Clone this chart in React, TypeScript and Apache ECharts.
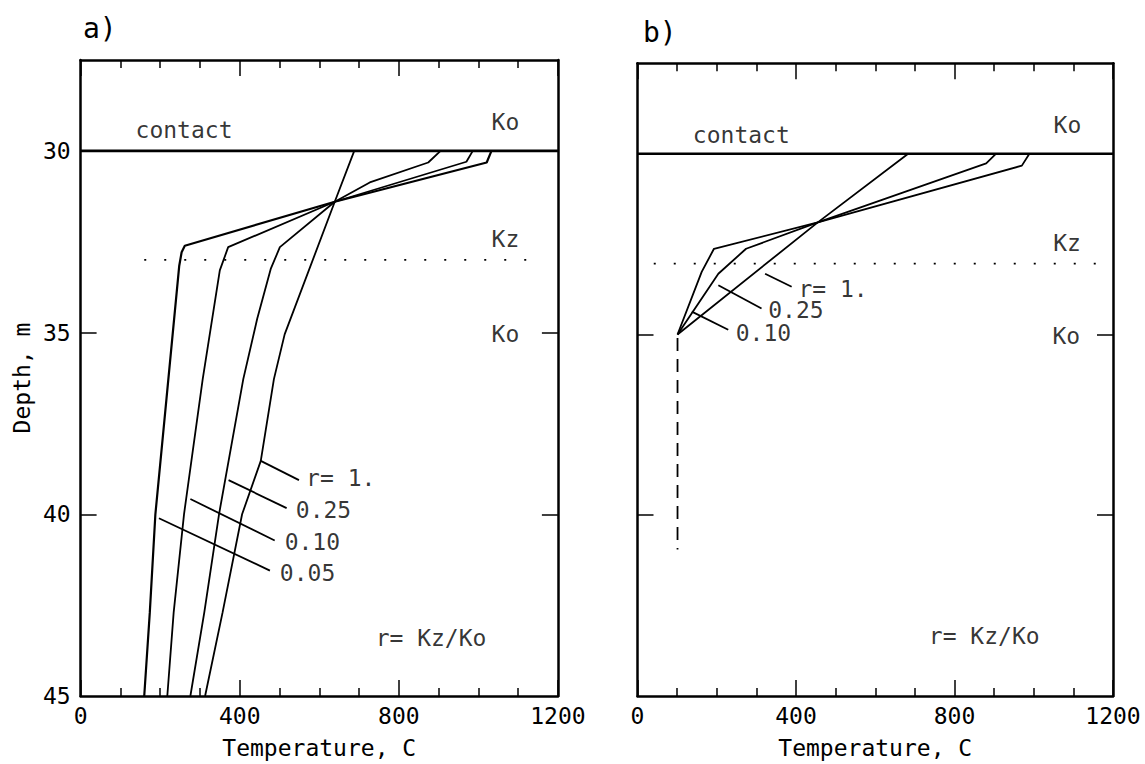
import React, { useEffect, useRef } from "react";
import * as echarts from "echarts";

// ---------- data ----------
const xTickValues = [0, 400, 800, 1200];
const depthLabelValues = [30, 35, 40, 45];
const sideTickValues = [35, 40];

// panel a : temperature (C) vs depth (m)
const aDepthR1 = [30, 31.4, 35.05, 36.28, 38.53, 40, 42.7, 45];
const aTempR1 = [688, 639, 513, 486, 453, 406, 357, 313];
const aDepthR025 = [30, 30.32, 30.87, 31.4, 32.65, 33.25, 34.62, 36.28, 40, 42.7, 45];
const aTempR025 = [905, 874, 727, 639, 501, 478, 444, 409, 348, 311, 276];
const aDepthR010 = [30, 30.3, 31.4, 32.65, 33.29, 36.28, 40, 42.7, 45];
const aTempR010 = [986, 970, 639, 371, 350, 307, 260, 234, 218];
const aDepthR005 = [30, 30.32, 31.4, 32.61, 32.79, 33.16, 36.81, 40, 42.7, 45];
const aTempR005 = [1033, 1021, 639, 262, 254, 248, 216, 188, 174, 160];
const aContact = [[0, 30], [1200, 30]];
const aDotted = [[160, 33.0], [1122, 33.0]];
const aLeaders = [
  [[453, 38.53], [549, 39.06]],
  [[372, 39.06], [518, 39.83]],
  [[276, 39.58], [488, 40.72]],
  [[197, 40.11], [476, 41.55]],
];
const aLeaderLabels: [number, number, string][] = [
  [567, 39.01, "r= 1."],
  [541, 39.88, "0.25"],
  [513, 40.75, "0.10"],
  [501, 41.62, "0.05"],
];
const aNotes: [number, number, string][] = [
  [260, 29.43, "contact"],
  [1068, 29.21, "Ko"],
  [1068, 32.43, "Kz"],
  [1068, 35.05, "Ko"],
  [881, 43.4, "r= Kz/Ko"],
];

// panel b
const bDepthR1 = [30, 31.9, 35];
const bTempR1 = [683, 455, 101];
const bDepthR025 = [30, 30.27, 31.9, 32.63, 33.32, 35];
const bTempR025 = [905, 880, 455, 274, 204, 101];
const bDepthR010 = [30, 30.33, 31.9, 32.63, 33.27, 35];
const bTempR010 = [989, 970, 455, 193, 162, 101];
const bDashed = [[101, 35.1], [101, 40.95]];
const bContact = [[0, 30], [1200, 30]];
const bDotted = [[41, 33.04], [1163, 33.04]];
const bLeaders = [
  [[322, 33.32], [389, 33.68]],
  [[204, 33.64], [313, 34.28]],
  [[137, 34.37], [229, 34.87]],
];
const bLeaderLabels: [number, number, string][] = [
  [406, 33.73, "r= 1."],
  [330, 34.32, "0.25"],
  [248, 34.95, "0.10"],
];
const bNotes: [number, number, string][] = [
  [262, 29.47, "contact"],
  [1085, 29.21, "Ko"],
  [1084, 32.47, "Kz"],
  [1082, 35.03, "Ko"],
  [875, 43.35, "r= Kz/Ko"],
];

// ---------- helpers ----------
const FONT = "DejaVu Sans Mono";
const FS = 23;
const zip = (xs: number[], ys: number[]) => xs.map((x, i) => [x, ys[i]]);

function makeXAxis(grid: number, pos: "bottom" | "top", labels: boolean, name?: string) {
  return {
    gridIndex: grid,
    type: "value",
    position: pos,
    min: xTickValues[0],
    max: xTickValues[xTickValues.length - 1],
    interval: xTickValues[1] - xTickValues[0],
    name: name,
    nameLocation: "middle",
    nameGap: 40,
    nameTextStyle: { fontFamily: FONT, fontSize: FS, color: "#000" },
    axisLine: { show: true, onZero: false, lineStyle: { color: "#000", width: 2.5 } },
    axisTick: { show: true, inside: true, length: 16, lineStyle: { color: "#000", width: 1.5 } },
    minorTick: { show: true, splitNumber: 4, length: 8, lineStyle: { color: "#000", width: 1.5 } },
    axisLabel: {
      show: labels,
      margin: 8,
      fontFamily: FONT,
      fontSize: FS,
      color: "#000",
      formatter: (v: number) => String(v),
    },
    splitLine: { show: false },
    minorSplitLine: { show: false },
  };
}

function makeYAxis(grid: number, pos: "left" | "right", labels: boolean, name?: string) {
  return {
    gridIndex: grid,
    type: "value",
    position: pos,
    inverse: true,
    min: 27.5,
    max: 45,
    name: name,
    nameLocation: "middle",
    nameGap: 47,
    nameTextStyle: { fontFamily: FONT, fontSize: FS, color: "#000" },
    axisLine: { show: true, onZero: false, lineStyle: { color: "#000", width: 2.5 } },
    axisTick: {
      show: true,
      inside: true,
      length: 16,
      customValues: sideTickValues,
      lineStyle: { color: "#000", width: 1.5 },
    },
    axisLabel: {
      show: labels,
      margin: 10,
      customValues: depthLabelValues,
      fontFamily: FONT,
      fontSize: FS,
      color: "#000",
      formatter: (v: number) => String(v),
    },
    splitLine: { show: false },
  };
}

function lineSeries(data: number[][], xi: number, yi: number, width = 1.8, type: any = "solid") {
  return {
    type: "line",
    xAxisIndex: xi,
    yAxisIndex: yi,
    data,
    symbol: "none",
    showSymbol: false,
    silent: true,
    animation: false,
    lineStyle: { color: "#000", width, type },
    z: 3,
  };
}

function textSeries(rows: [number, number, string][], xi: number, yi: number, align: string) {
  return {
    type: "scatter",
    xAxisIndex: xi,
    yAxisIndex: yi,
    data: rows.map((r) => ({ value: [r[0], r[1]], name: r[2] })),
    symbolSize: 0,
    silent: true,
    clip: false,
    label: {
      show: true,
      position: [0, 0],
      align,
      verticalAlign: "middle",
      formatter: (p: any) => p.name,
      fontFamily: FONT,
      fontSize: FS,
      color: "#000",
    },
    z: 5,
  };
}

export default function App() {
  const ref = useRef<HTMLDivElement>(null);
  useEffect(() => {
    if (!ref.current) return;
    const chart = echarts.init(ref.current, undefined, { renderer: "svg" });
    const series: any[] = [];
    // panel a
    series.push(lineSeries(aContact, 0, 0, 2.6));
    series.push(lineSeries(aDotted, 0, 0, 1.8, [2, 18]));
    series.push(lineSeries(zip(aTempR1, aDepthR1), 0, 0));
    series.push(lineSeries(zip(aTempR025, aDepthR025), 0, 0));
    series.push(lineSeries(zip(aTempR010, aDepthR010), 0, 0));
    series.push(lineSeries(zip(aTempR005, aDepthR005), 0, 0, 2.2));
    aLeaders.forEach((l) => series.push(lineSeries(l, 0, 0)));
    series.push(textSeries(aLeaderLabels, 0, 0, "left"));
    series.push(textSeries(aNotes, 0, 0, "center"));
    // panel b
    series.push(lineSeries(bContact, 2, 2, 2.6));
    series.push(lineSeries(bDotted, 2, 2, 1.8, [2, 18]));
    series.push(lineSeries(zip(bTempR1, bDepthR1), 2, 2));
    series.push(lineSeries(zip(bTempR025, bDepthR025), 2, 2));
    series.push(lineSeries(zip(bTempR010, bDepthR010), 2, 2));
    series.push(lineSeries(bDashed, 2, 2, 1.8, [13, 8]));
    bLeaders.forEach((l) => series.push(lineSeries(l, 2, 2)));
    series.push(textSeries(bLeaderLabels, 2, 2, "left"));
    series.push(textSeries(bNotes, 2, 2, "center"));

    chart.setOption({
      animation: false,
      backgroundColor: "#fff",
      grid: [
        { left: 80.6, top: 60, width: 477.3, height: 638.3 },
        { left: 637.5, top: 63.3, width: 475.5, height: 637.4 },
      ],
      xAxis: [
        makeXAxis(0, "bottom", true, "Temperature, C"),
        makeXAxis(0, "top", false),
        makeXAxis(1, "bottom", true, "Temperature, C"),
        makeXAxis(1, "top", false),
      ],
      yAxis: [
        makeYAxis(0, "left", true, "Depth, m"),
        makeYAxis(0, "right", false),
        makeYAxis(1, "left", false),
        makeYAxis(1, "right", false),
      ],
      graphic: [
        {
          type: "text",
          x: 83,
          y: 28,
          style: { text: "a)", fontFamily: FONT, fontSize: 28, fill: "#000", align: "left", verticalAlign: "middle" },
        },
        {
          type: "text",
          x: 643,
          y: 32,
          style: { text: "b)", fontFamily: FONT, fontSize: 28, fill: "#000", align: "left", verticalAlign: "middle" },
        },
      ],
      series,
    });
    return () => chart.dispose();
  }, []);
  return (
    <div
      ref={ref}
      style={{ position: "fixed", left: 0, top: 0, width: 1145, height: 764, background: "#fff" }}
    />
  );
}
